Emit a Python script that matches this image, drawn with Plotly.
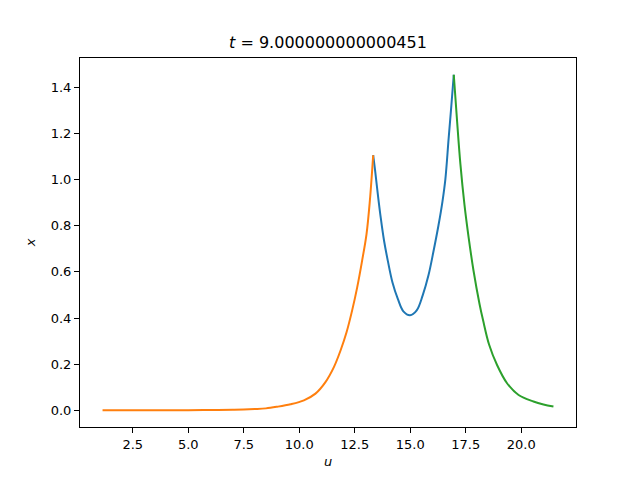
import plotly.graph_objects as go

# Data
u_blue = [13.33, 13.42, 13.54, 13.67, 13.82, 13.99, 14.20, 14.44, 14.69, 14.99, 15.29, 15.56, 15.82, 16.04, 16.27, 16.45, 16.58, 16.73, 16.85, 16.96]
x_blue = [1.106, 1.037, 0.936, 0.835, 0.735, 0.648, 0.554, 0.483, 0.429, 0.412, 0.433, 0.498, 0.585, 0.686, 0.801, 0.905, 1.000, 1.180, 1.320, 1.455]

u_orange = [1.14, 3.0, 5.0, 6.0, 7.0, 7.5, 8.0, 8.5, 9.0, 9.61, 10.21, 10.73, 11.18, 11.56, 11.86, 12.13, 12.38, 12.61, 12.83, 13.03, 13.18, 13.33]
x_orange = [0.0, 0.0001, 0.0003, 0.0008, 0.002, 0.003, 0.005, 0.008, 0.015, 0.026, 0.043, 0.072, 0.122, 0.187, 0.259, 0.338, 0.432, 0.533, 0.648, 0.764, 0.908, 1.106]

u_green = [16.96, 17.11, 17.26, 17.44, 17.63, 17.85, 18.12, 18.28, 18.55, 18.91, 19.36, 19.88, 20.55, 21.0, 21.45]
x_green = [1.455, 1.253, 1.066, 0.893, 0.749, 0.605, 0.461, 0.390, 0.285, 0.196, 0.117, 0.066, 0.038, 0.025, 0.016]

x_tickvals = [2.5, 5.0, 7.5, 10.0, 12.5, 15.0, 17.5, 20.0]
x_ticktext = ["2.5", "5.0", "7.5", "10.0", "12.5", "15.0", "17.5", "20.0"]
y_tickvals = [0.0, 0.2, 0.4, 0.6, 0.8, 1.0, 1.2, 1.4]
y_ticktext = ["0.0", "0.2", "0.4", "0.6", "0.8", "1.0", "1.2", "1.4"]

title_text = "<i>t</i> = 9.000000000000451"

fig = go.Figure()
for uu, xx, col in [(u_blue, x_blue, "#1f77b4"), (u_orange, x_orange, "#ff7f0e"), (u_green, x_green, "#2ca02c")]:
    fig.add_trace(go.Scatter(x=uu, y=xx, mode="lines",
                             line=dict(color=col, width=2, shape="spline", smoothing=1.0),
                             showlegend=False, hoverinfo="skip"))

all_u = u_blue + u_orange + u_green
all_x = x_blue + x_orange + x_green
umin, umax = min(all_u), max(all_u)
xmin, xmax = min(all_x), max(all_x)
pu = 0.05 * (umax - umin)
px = 0.05 * (xmax - xmin)

font = "DejaVu Sans"
axis_common = dict(showgrid=False, zeroline=False, showline=True, mirror=True,
                   linecolor="black", linewidth=1, ticks="outside", ticklen=5,
                   tickwidth=1, tickcolor="black",
                   tickfont=dict(family=font, size=13, color="black"))

fig.update_layout(
    width=640, height=480,
    margin=dict(l=80, r=64, t=58, b=53),
    paper_bgcolor="white", plot_bgcolor="white",
    title=dict(text=title_text, x=0.5, xref="paper", y=1 - 42 / 480, yref="container",
               xanchor="center", yanchor="middle",
               font=dict(family=font, size=16, color="black")),
    xaxis=dict(range=[umin - pu, umax + pu], tickvals=x_tickvals, ticktext=x_ticktext,
               title=dict(text="<i>u</i>", standoff=6, font=dict(family=font, size=13, color="black")),
               **axis_common),
    yaxis=dict(range=[xmin - px, xmax + px], tickvals=y_tickvals, ticktext=y_ticktext,
               title=dict(text="<i>x</i>", standoff=12, font=dict(family=font, size=13, color="black")),
               **axis_common),
)

fig.write_html("out.html", config={"displayModeBar": False},
               post_script="document.body.style.margin='0';")
